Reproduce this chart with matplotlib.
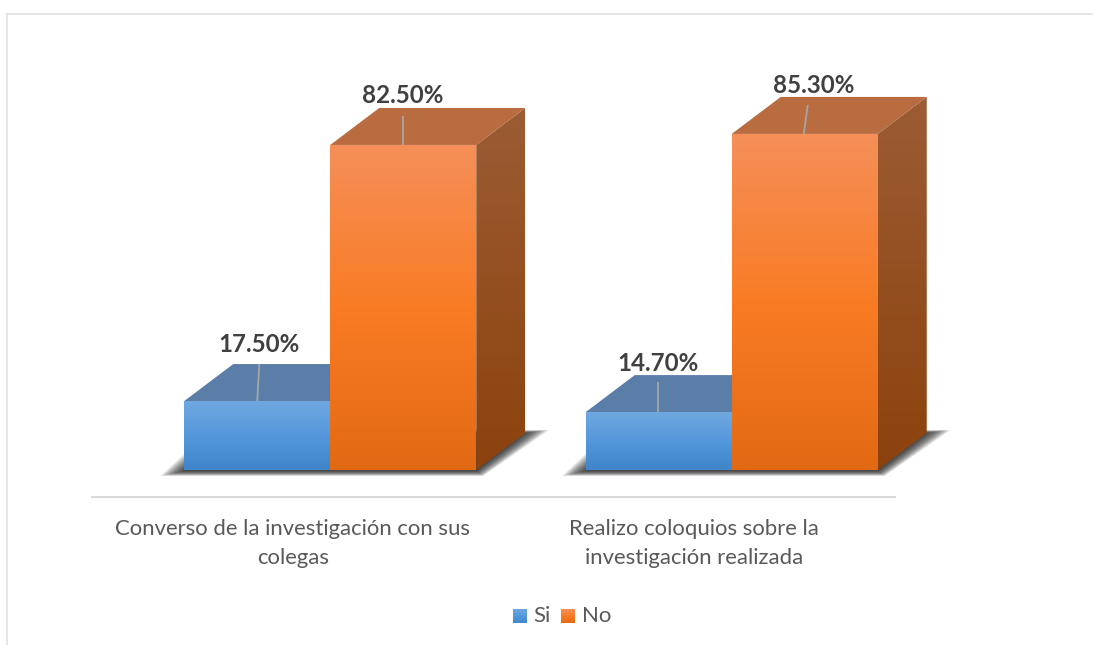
import numpy as np
import matplotlib
matplotlib.use("Agg")
import matplotlib.pyplot as plt
from matplotlib.colors import LinearSegmentedColormap
from matplotlib.legend_handler import HandlerBase
from matplotlib.lines import Line2D
from matplotlib.patches import Polygon, Rectangle

plt.rcParams["font.family"] = ["Lato", "DejaVu Sans"]

# data
categories = ["Converso de la investigación con sus\ncolegas",
              "Realizo coloquios sobre la\ninvestigación realizada"]
series_names = ["Si", "No"]
si_values = [17.5, 14.7]
no_values = [82.5, 85.3]

W, H = 1093, 645
PX_X = 401.5   # pixels per category
PX_Y = 3.94    # pixels per percent
BASE_PX = 470
AXIS_PX = 497
TOP_PX = 60
LEFT_PX = 92
RIGHT_PX = 895

bar_w = 146 / PX_X
dep_x = 49 / PX_X
dep_y = 37 / PX_Y
shift = 37.5 / PX_X   # the 3d view pushes the bars right of the tick centre

# colours
blue_front = LinearSegmentedColormap.from_list("bf", ["#70A8E0", "#5498DC", "#3F85C9"])
orange_front = LinearSegmentedColormap.from_list("of", ["#F58F59", "#F97C24", "#E26913"])
blue_side = LinearSegmentedColormap.from_list("bs", ["#4F7299", "#2A5A88"])
orange_side = LinearSegmentedColormap.from_list("os", ["#9C5C34", "#8C420D"])
blue_top = "#5A7EA8"
orange_top = "#B86C40"

fig = plt.figure(figsize=(W / 100, H / 100), dpi=100)
ax = fig.add_axes([LEFT_PX / W, 1 - AXIS_PX / H, (RIGHT_PX - LEFT_PX) / W, (AXIS_PX - TOP_PX) / H])
ax.patch.set_alpha(0)


def grad_face(pts, cmap, y0, y1, z):
    # vertical gradient clipped to the polygon of the face
    xs = [p[0] for p in pts]
    poly = Polygon(pts, closed=True, fc="none", ec="none", zorder=z, clip_on=False)
    ax.add_patch(poly)
    g = np.linspace(0, 1, 256).reshape(-1, 1)
    im = ax.imshow(g, cmap=cmap, aspect="auto", origin="upper", vmin=0, vmax=1,
                   extent=[min(xs), max(xs), y0, y1], zorder=z, interpolation="bilinear")
    im.set_clip_path(poly)
    im.set_clip_box(fig.bbox)  # second bar's side runs past the axes


def shadow(x0, x1, z):
    # soft shadow on the floor, stacked thin layers
    for grow in np.linspace(1, 0, 26):
        gx = grow * 24 / PX_X
        gy = grow * 5 / PX_Y
        pts = [(x0 - gx, -gy - 1 / PX_Y), (x1 + gx * 0.3, -gy - 1 / PX_Y),
               (x1 + dep_x + gx, dep_y + gy * 0.6), (x0 + dep_x - gx, dep_y + gy * 0.6)]
        ax.add_patch(Polygon(pts, closed=True, fc="#1E1E1E", ec="none", alpha=0.055, zorder=z, clip_on=False))


def bar3d(x0, val, front, side, top, z):
    x1 = x0 + bar_w
    grad_face([(x1, 0), (x1 + dep_x, dep_y), (x1 + dep_x, val + dep_y), (x1, val)],
              side, 0, val + dep_y, z)
    ax.add_patch(Polygon([(x0, val), (x1, val), (x1 + dep_x, val + dep_y), (x0 + dep_x, val + dep_y)],
                         closed=True, fc=top, ec="none", zorder=z, clip_on=False))
    grad_face([(x0, 0), (x1, 0), (x1, val), (x0, val)], front, 0, val, z + 0.1)


for i in range(len(categories)):
    split = i + shift
    shadow(split - bar_w, split + bar_w, 1)
    bar3d(split - bar_w, si_values[i], blue_front, blue_side, blue_top, 2)
    bar3d(split, no_values[i], orange_front, orange_side, orange_top, 3)

# label placement in pixels from the front top centre of a bar:
# line foot dx, line end dx, line height, label dx, label dy
si_leader = [(0, 2, 37, 2, 57), (-1, -1, 30, -1, 49)]
no_leader = [(0, 0, 29, -1, 49), (-1, 3, 29, 9, 48)]


def data_label(cx, val, spec):
    foot, end, dy, tx, ty = spec
    ax.plot([cx + foot / PX_X, cx + end / PX_X], [val, val + dy / PX_Y], color="#A6A6A6", lw=1.3,
            zorder=5, solid_capstyle="butt")
    ax.text(cx + tx / PX_X, val + ty / PX_Y, f"{val:.2f}%", ha="center", va="center",
            fontsize=17.4, fontweight="bold", color="#404040", zorder=6)


for i in range(len(categories)):
    split = i + shift
    data_label(split - bar_w / 2, si_values[i], si_leader[i])
    data_label(split + bar_w / 2, no_values[i], no_leader[i])

ax.set_xlim(-0.5, 1.5)
ax.set_ylim(-(AXIS_PX - BASE_PX) / PX_Y, (BASE_PX - TOP_PX) / PX_Y)
ax.set_xticks(range(len(categories)))
ax.set_xticklabels(categories, fontsize=15.9, color="#595959", linespacing=1.62)
ax.tick_params(axis="x", length=0, pad=15.5)
ax.set_yticks([])
for s in ["top", "left", "right"]:
    ax.spines[s].set_visible(False)
ax.spines["bottom"].set_color("#D9D9D9")
ax.spines["bottom"].set_linewidth(1.5)


class GradHandler(HandlerBase):
    def create_artists(self, legend, orig_handle, xd, yd, width, height, fontsize, trans):
        cmap = orig_handle.cmap
        side = 10.1
        out = []
        n = 10
        for k in range(n):
            out.append(Rectangle((width - side - xd, -yd + side * (n - k - 1) / n - 1), side, side / n + 0.3,
                                 fc=cmap((k + 0.5) / n), ec="none", transform=trans))
        return out


class Swatch(Rectangle):
    def __init__(self, cmap):
        super().__init__((0, 0), 1, 1)
        self.cmap = cmap


fig.legend([Swatch(blue_front), Swatch(orange_front)], series_names, loc="center",
           bbox_to_anchor=(561 / W, 1 - 616 / H), ncol=2, frameon=False, fontsize=16,
           labelcolor="#595959", handler_map={Swatch: GradHandler()}, handlelength=0.7,
           handletextpad=0.3, columnspacing=0.39)

# chart frame, only top and left edges are inside the picture
fig.add_artist(Line2D([7 / W, 1], [1 - 14 / H, 1 - 14 / H], color="#E2E2E2", lw=1.2))
fig.add_artist(Line2D([7 / W, 7 / W], [1 - 14 / H, 0], color="#E2E2E2", lw=1.2))

fig.savefig("out.png", dpi=100, facecolor="white")
